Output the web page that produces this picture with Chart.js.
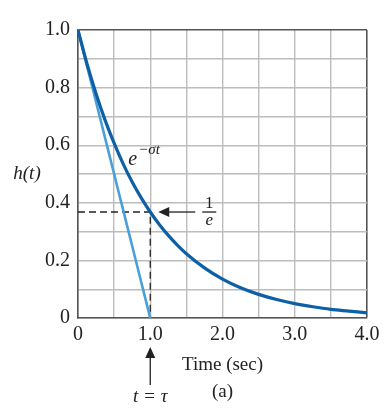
<!DOCTYPE html>
<html>
<head>
<meta charset="utf-8">
<script src="https://cdn.jsdelivr.net/npm/chart.js@4"></script>
<style>
	html, body { margin: 0; padding: 0; background: #fff; }
	#wrap { width: 387px; height: 410px; }
</style>
</head>
<body>
<div id="wrap"><canvas id="chart" width="387" height="410"></canvas></div>
<script>
// values
const times = [0, 0.125, 0.25, 0.375, 0.5, 0.625, 0.75, 0.875, 1.0, 1.125, 1.25, 1.375, 1.5, 1.75, 2.0, 2.25, 2.5, 2.75, 3.0, 3.25, 3.5, 3.75, 4.0]
const decay = [1.0, 0.882, 0.779, 0.687, 0.607, 0.535, 0.472, 0.417, 0.368, 0.325, 0.287, 0.253, 0.223, 0.174, 0.135, 0.105, 0.082, 0.064, 0.05, 0.039, 0.03, 0.024, 0.018]
const tangentT = [0, 1.0]
const tangentH = [1.0, 0]
const xTickLabels = { 0: '0', 1: '1.0', 2: '2.0', 3: '3.0', 4: '4.0' }
const yTickLabels = { 0: '0', 2: '0.2', 4: '0.4', 6: '0.6', 8: '0.8', 10: '1.0' }
const tau = 1.0
const oneOverE = 0.368

const serif = '"Liberation Serif", "DejaVu Serif", serif'
const gridGray = '#bcbcbc'
const boxGray = '#555'

function arrowHead(ctx, x, y, dir) {
	// dir: 'left' or 'up'
	ctx.beginPath()
	if (dir == 'left') {
		ctx.moveTo(x, y)
		ctx.lineTo(x + 11, y - 5)
		ctx.lineTo(x + 11, y + 5)
	} else {
		ctx.moveTo(x, y)
		ctx.lineTo(x - 5, y + 11)
		ctx.lineTo(x + 5, y + 11)
	}
	ctx.closePath()
	ctx.fill()
}

const notes = {
	id: 'notes',
	beforeDatasetsDraw(chart) {
		const { ctx, scales: { x, y } } = chart
		const px = x.getPixelForValue(tau)
		const py = y.getPixelForValue(oneOverE)
		ctx.save()
		ctx.strokeStyle = '#222'
		ctx.lineWidth = 1.3
		ctx.setLineDash([7, 4])
		ctx.beginPath()
		ctx.moveTo(x.left, py)
		ctx.lineTo(px, py)
		ctx.lineTo(px, y.bottom)
		ctx.stroke()
		ctx.restore()
	},
	afterDraw(chart) {
		const { ctx, scales: { x, y } } = chart
		const px = x.getPixelForValue(tau)
		const py = y.getPixelForValue(oneOverE)
		ctx.save()
		ctx.fillStyle = '#222'
		ctx.strokeStyle = '#222'
		ctx.lineWidth = 1.3

		// arrow pointing at 1/e
		ctx.beginPath()
		ctx.moveTo(px + 15, py)
		ctx.lineTo(px + 45, py)
		ctx.stroke()
		arrowHead(ctx, px + 8, py, 'left')

		// 1/e fraction
		ctx.font = '17px ' + serif
		ctx.textAlign = 'center'
		ctx.textBaseline = 'alphabetic'
		ctx.fillText('1', px + 59, py - 4)
		ctx.beginPath()
		ctx.moveTo(px + 52, py)
		ctx.lineTo(px + 66, py)
		ctx.stroke()
		ctx.font = 'italic 17px ' + serif
		ctx.fillText('e', px + 59, py + 13)

		// e^{-σt}
		ctx.textAlign = 'left'
		ctx.font = 'italic 20px ' + serif
		ctx.fillText('e', px - 22, y.getPixelForValue(0.53))
		ctx.font = 'italic 15px ' + serif
		ctx.fillText('\u2212\u03c3t', px - 12, y.getPixelForValue(0.57))

		// h(t)
		ctx.textAlign = 'center'
		ctx.textBaseline = 'middle'
		ctx.font = 'italic 19px ' + serif
		ctx.fillText('h(t)', 27, y.getPixelForValue(0.5))

		// t = tau arrow
		ctx.beginPath()
		ctx.moveTo(px, y.bottom + 38)
		ctx.lineTo(px, y.bottom + 67)
		ctx.stroke()
		arrowHead(ctx, px, y.bottom + 29, 'up')
		ctx.font = 'italic 19px ' + serif
		ctx.fillText('t = \u03c4', px, y.bottom + 79)
		ctx.restore()
	},
}

new Chart(document.getElementById('chart').getContext('2d'), {
	type: 'line',
	data: {
		datasets: [
			{
				data: times.map((t, i) => ({ x: t, y: decay[i] })),
				borderColor: '#0d5fa6',
				borderWidth: 3.2,
				cubicInterpolationMode: 'monotone',
				pointRadius: 0,
			},
			{
				data: tangentT.map((t, i) => ({ x: t, y: tangentH[i] })),
				borderColor: '#4a9fd8',
				borderWidth: 2.6,
				pointRadius: 0,
			},
		],
	},
	options: {
		responsive: false,
		animation: false,
		layout: { padding: { top: 30, right: 20, left: 0, bottom: 0 } },
		plugins: { legend: { display: false }, tooltip: { enabled: false } },
		scales: {
			x: {
				type: 'linear',
				min: 0,
				max: 4,
				afterFit: (scale) => { scale.height = 92 },
				grid: {
					drawTicks: false,
					color: (c) => (c.tick && c.tick.value == 4 ? boxGray : gridGray),
					lineWidth: (c) => (c.tick && c.tick.value == 4 ? 1.6 : 1.4),
				},
				border: { color: boxGray, width: 1.6 },
				ticks: {
					stepSize: 0.5,
					padding: 5,
					maxRotation: 0,
					autoSkip: false,
					color: '#222',
					font: { family: serif, size: 20 },
					callback: (v) => xTickLabels[v] ?? '',
				},
				title: {
					display: true,
					text: ['Time (sec)', '(a)'],
					color: '#222',
					font: { family: serif, size: 19, lineHeight: 1.45 },
					padding: { top: 4 },
				},
			},
			y: {
				min: 0,
				max: 1,
				afterFit: (scale) => { scale.width = 78 },
				grid: {
					drawTicks: false,
					color: (c) => (c.tick && c.tick.value == 1 ? boxGray : gridGray),
					lineWidth: (c) => (c.tick && c.tick.value == 1 ? 1.6 : 1.4),
				},
				border: { color: boxGray, width: 1.6 },
				ticks: {
					stepSize: 0.1,
					padding: 8,
					autoSkip: false,
					color: '#222',
					font: { family: serif, size: 20 },
					callback: (v) => yTickLabels[Math.round(v * 10)] ?? '',
				},
			},
		},
	},
	plugins: [notes],
})
</script>
</body>
</html>
